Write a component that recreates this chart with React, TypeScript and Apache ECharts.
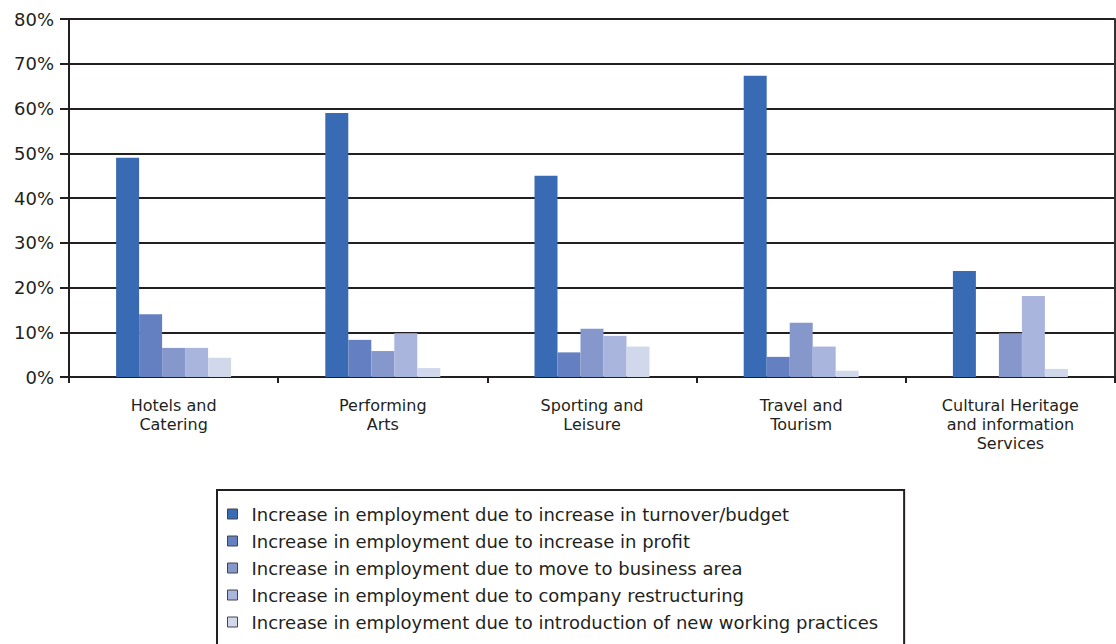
import React, { useEffect, useRef } from "react";
import * as echarts from "echarts";

const categories = [
  "Hotels and\nCatering",
  "Performing\nArts",
  "Sporting and\nLeisure",
  "Travel and\nTourism",
  "Cultural Heritage\nand information\nServices",
];

const seriesNames = [
  "Increase in employment due to increase in turnover/budget",
  "Increase in employment due to increase in profit",
  "Increase in employment due to move to business area",
  "Increase in employment due to company restructuring",
  "Increase in employment due to introduction of new working practices",
];

const turnover = [49, 59, 45, 67.3, 23.7];
const profit = [14, 8.3, 5.5, 4.5, 0];
const businessArea = [6.5, 5.8, 10.8, 12.1, 9.8];
const restructuring = [6.5, 9.8, 9.2, 6.8, 18.1];
const workingPractices = [4.3, 2.0, 6.8, 1.4, 1.8];

const seriesValues = [turnover, profit, businessArea, restructuring, workingPractices];
const colors = ["#386BB3", "#6480C0", "#8698CB", "#A9B5DC", "#D1D8EC"];

const yTicks = [0, 10, 20, 30, 40, 50, 60, 70, 80];

const FONT = "'DejaVu Sans', sans-serif";
const TXT = "#231f20";

export default function App() {
  const ref = useRef<HTMLDivElement>(null);
  useEffect(() => {
    document.body.style.margin = "0";
    const chart = echarts.init(ref.current!, null, { renderer: "svg" });
    chart.setOption({
      animation: false,
      backgroundColor: "#ffffff",
      textStyle: { fontFamily: FONT },
      grid: { left: 69, right: 1, top: 19, bottom: 267, containLabel: false },
      xAxis: {
        type: "category",
        data: categories,
        axisLine: { show: true, lineStyle: { color: TXT, width: 2 } },
        axisTick: { show: true, length: 6, lineStyle: { color: TXT, width: 2 } },
        axisLabel: {
          color: TXT,
          fontSize: 16,
          lineHeight: 19,
          margin: 19,
          fontFamily: FONT,
          interval: 0,
        },
      },
      yAxis: [
        {
          type: "value",
          min: yTicks[0],
          max: yTicks[yTicks.length - 1],
          interval: 10,
          axisLine: { show: true, lineStyle: { color: TXT, width: 2 } },
          axisTick: { show: true, length: 9, lineStyle: { color: TXT, width: 2 } },
          axisLabel: {
            color: TXT,
            fontSize: 18,
            margin: 15,
            fontFamily: FONT,
            formatter: (v: number) => v + "%",
          },
          splitLine: { show: true, lineStyle: { color: TXT, width: 2 } },
        },
        {
          type: "value",
          position: "right",
          min: 0,
          max: 80,
          interval: 10,
          axisLine: { show: true, lineStyle: { color: "#333", width: 2 } },
          axisTick: { show: false },
          axisLabel: { show: false },
          splitLine: { show: false },
        },
      ],
      legend: {
        orient: "vertical",
        left: 217,
        top: 490,
        height: 200,
        padding: [14, 26, 24, 10],
        itemWidth: 10,
        itemHeight: 10,
        itemGap: 7,
        icon: "rect",
        borderColor: TXT,
        borderWidth: 2,
        itemStyle: { borderColor: "#444", borderWidth: 1 },
        textStyle: { color: TXT, fontSize: 18, lineHeight: 20, fontFamily: FONT, padding: [0, 0, 0, 9] },
        data: seriesNames,
      },
      series: seriesNames.map((name, i) => ({
        name,
        type: "bar",
        data: seriesValues[i],
        barWidth: 23,
        barGap: "0%",
        itemStyle: { color: colors[i] },
      })),
    });
    return () => chart.dispose();
  }, []);
  return <div ref={ref} style={{ width: 1116, height: 644 }} />;
}
